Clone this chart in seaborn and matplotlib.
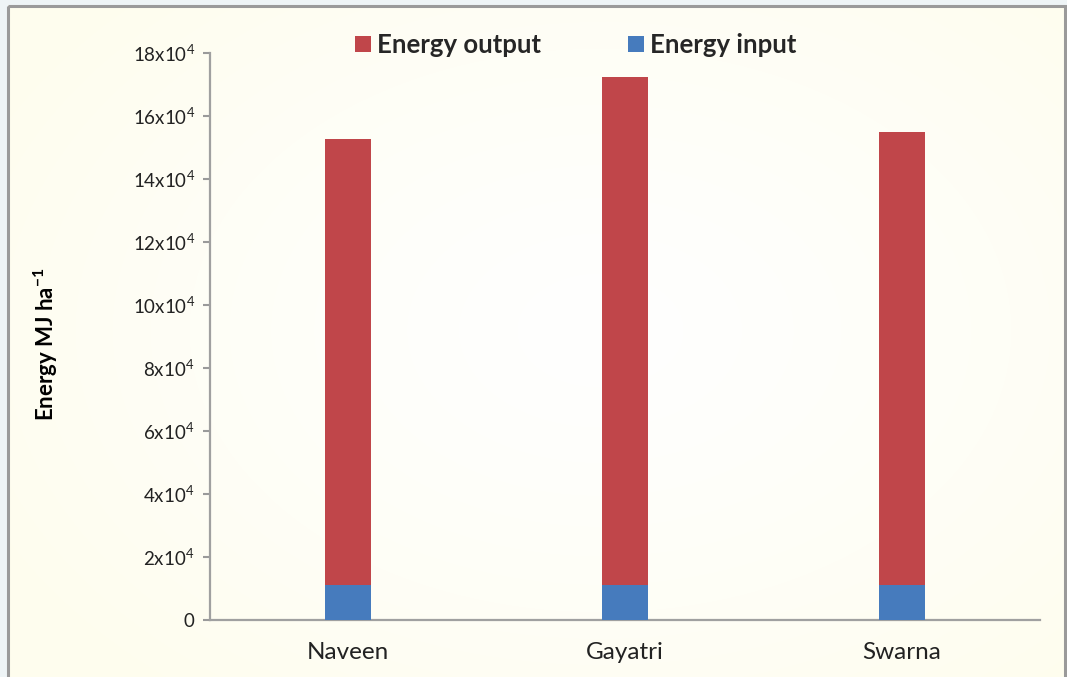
import numpy as np
import pandas as pd
import matplotlib
matplotlib.use("Agg")
import matplotlib.pyplot as plt
import seaborn as sns
from matplotlib.patches import Patch, Rectangle

# ---- data ----
varieties = ["Naveen", "Gayatri", "Swarna"]
energy_input = [11100, 11100, 11100]
energy_output = [141600, 161300, 143800]
ytick_values = [0, 20000, 40000, 60000, 80000, 100000, 120000, 140000, 160000, 180000]
ytick_labels = ["0"] + [r"$\mathregular{%dx10^{4}}$" % n for n in [2, 4, 6, 8, 10, 12, 14, 16, 18]]
legend_labels = ["Energy output", "Energy input"]

RED = "#C0464A"
BLUE = "#467BBD"

sns.set_theme(style="white")
plt.rcParams["font.family"] = ["Lato", "DejaVu Sans"]
plt.rcParams["mathtext.fontset"] = "custom"
plt.rcParams["mathtext.rm"] = "Lato"
plt.rcParams["mathtext.bf"] = "Lato:bold"

df = pd.DataFrame({"variety": varieties, "input": energy_input, "output": energy_output})

fig = plt.figure(figsize=(10.67, 6.77), dpi=100)

# background: soft radial gradient, light blue outer strip, grey frame
bg = fig.add_axes([0, 0, 1, 1], zorder=-10)
bg.set_axis_off()
W, H = 1067, 677
yy, xx = np.mgrid[0:H, 0:W]
r = np.sqrt(((xx - 600) / 700.0) ** 2 + ((yy - 330) / 480.0) ** 2)
r = np.clip(r, 0, 1) ** 1.3
center = np.array([255, 255, 254]) / 255.0
edge = np.array([254, 253, 238]) / 255.0
img = center[None, None, :] * (1 - r[..., None]) + edge[None, None, :] * r[..., None]
bg.imshow(img, extent=[0, W, H, 0], aspect="auto", interpolation="bilinear")
bg.set_xlim(0, W)
bg.set_ylim(H, 0)
bg.add_patch(Rectangle((0, 0), W, 5, color="#EEF4F6", lw=0))
bg.add_patch(Rectangle((0, 0), 8, H, color="#EEF4F6", lw=0))
bg.add_patch(Rectangle((8, 6), 1057, H + 10, fill=False, ec="#9A9A9A", lw=2.2))

ax = fig.add_axes([210 / W, 57 / H, (1040 - 210) / W, (620 - 53) / H])
ax.set_facecolor("none")

sns.barplot(data=df, x="variety", y="input", color=BLUE, width=0.166,
            saturation=1, ax=ax, zorder=3, linewidth=0, edgecolor="none")
sns.barplot(data=df, x="variety", y="output", color=RED, width=0.166,
            saturation=1, ax=ax, bottom=df["input"], zorder=3, linewidth=0, edgecolor="none")

ax.set_xlim(-0.5, 2.5)
ax.set_ylim(0, 180000)
ax.set_yticks(ytick_values)
ax.set_yticklabels(ytick_labels)
ax.tick_params(axis="y", labelsize=13.5, colors="#9A9A9A", labelcolor="#222222",
               direction="out", length=5, width=1.5, left=True, pad=6)
ax.tick_params(axis="x", labelsize=17.5, labelcolor="#222222", bottom=False, pad=10)

for s in ["top", "right"]:
    ax.spines[s].set_visible(False)
for s in ["left", "bottom"]:
    ax.spines[s].set_color("#A0A0A0")
    ax.spines[s].set_linewidth(1.6)

ax.set_xlabel("")
ax.set_ylabel(r"Energy MJ ha$^{\mathbf{-1}}$", fontsize=16, fontweight="bold",
              color="black", labelpad=0)
ax.yaxis.set_label_coords(-150 / 830, 0.486)

handles = [Patch(facecolor=RED, edgecolor="none"), Patch(facecolor=BLUE, edgecolor="none")]
leg = fig.legend(handles, legend_labels, loc="center", bbox_to_anchor=(576 / W, 1 - 45 / H),
                 ncol=2, frameon=False, handlelength=0.6, handleheight=0.6,
                 handletextpad=0.25, columnspacing=3.4,
                 prop={"family": ["Lato", "DejaVu Sans"], "weight": "bold", "size": 18.5})

fig.savefig("out.png", dpi=100)
